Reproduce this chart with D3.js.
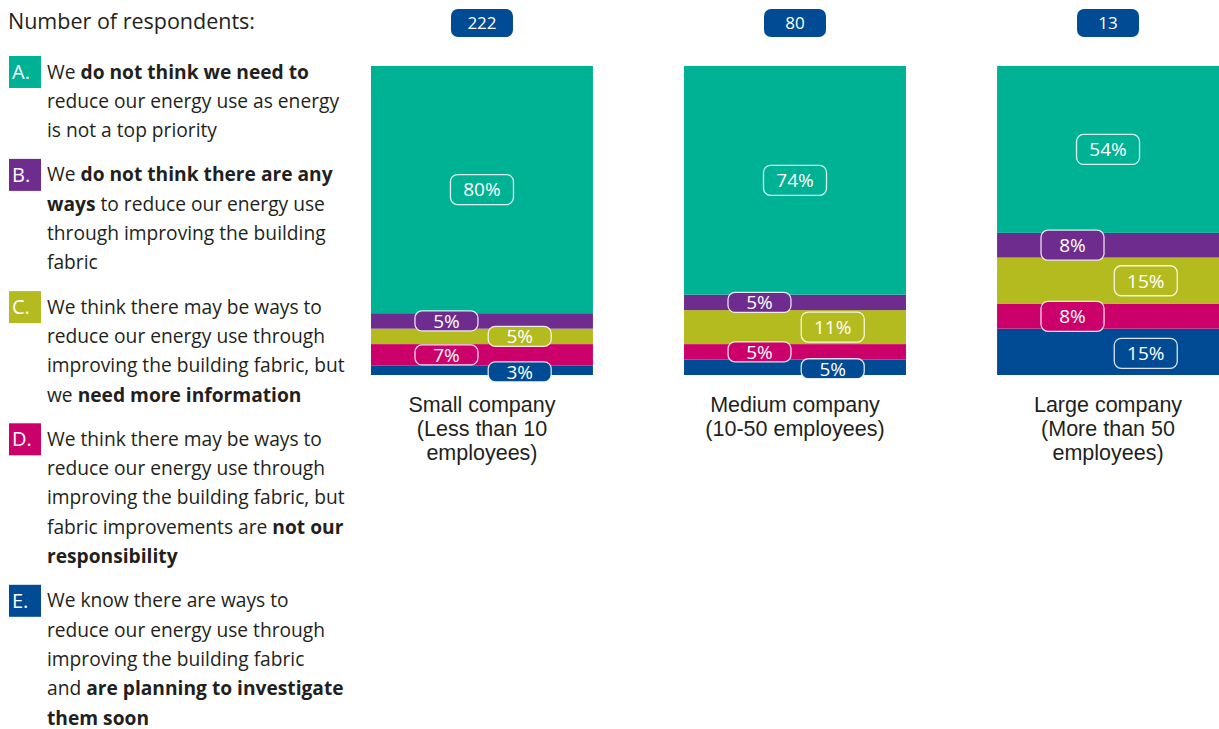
<!DOCTYPE html>
<html>
<head>
<meta charset="utf-8">
<script src="https://cdn.jsdelivr.net/npm/d3@7"></script>
<style>
  html, body { margin: 0; padding: 0; background: #fff; }
  svg { display: block; font-family: "Open Sans", "Noto Sans", sans-serif; }
</style>
</head>
<body>
<svg id="chart" width="1219" height="729"></svg>
<script>
// Survey answers by company size (percent of respondents)
const categories = ["Small", "Medium", "Large"];
const categoryLabels = [
  ["Small company", "(Less than 10", "employees)"],
  ["Medium company", "(10-50 employees)"],
  ["Large company", "(More than 50", "employees)"]
];
const respondents = [222, 80, 13];
const answerKeys = ["A", "B", "C", "D", "E"];
const answerA = [80, 74, 54];
const answerB = [5, 5, 8];
const answerC = [5, 11, 15];
const answerD = [7, 5, 8];
const answerE = [3, 5, 15];
const answerColors = ["#00b294", "#6e2c8e", "#b3bb1f", "#cc006a", "#004b93"];
const legendLetters = ["A.", "B.", "C.", "D.", "E."];
const legendText = [
  ["We **do not think we need to**", "reduce our energy use as energy", "is not a top priority"],
  ["We **do not think there are any**", "**ways** to reduce our energy use", "through improving the building", "fabric"],
  ["We think there may be ways to", "reduce our energy use through", "improving the building fabric, but", "we **need more information**"],
  ["We think there may be ways to", "reduce our energy use through", "improving the building fabric, but", "fabric improvements are **not our**", "**responsibility**"],
  ["We know there are ways to", "reduce our energy use through", "improving the building fabric", "and **are planning to investigate**", "**them soon**"]
];

const svg = d3.select("#chart");
const textColor = "#231f20";

// Rows for the stack: bottom is E, top is A
const rows = categories.map((c, i) => ({
  category: c,
  A: answerA[i], B: answerB[i], C: answerC[i], D: answerD[i], E: answerE[i]
}));
const stackOrder = ["E", "D", "C", "B", "A"];
const series = d3.stack().keys(stackOrder)(rows);

const x = d3.scaleBand().domain(categories).range([371, 1219]).paddingInner(0.291).paddingOuter(0);
const y = d3.scaleLinear().domain([0, 100]).range([375, 66]);
const color = d3.scaleOrdinal().domain(answerKeys).range(answerColors);

// Stacked segments
const layers = svg.append("g").selectAll("g")
  .data(series).join("g")
  .attr("fill", s => color(s.key));
layers.selectAll("rect")
  .data(s => s.map(d => Object.assign({ key: s.key }, d)))
  .join("rect")
  .attr("x", d => x(d.data.category))
  .attr("width", x.bandwidth())
  .attr("y", d => y(d[1]))
  .attr("height", d => y(d[0]) - y(d[1]));

// Value badges: A centred, B/D on the left, C/E on the right
const labelPos = { A: 0.5, B: 0.34, C: 0.67, D: 0.34, E: 0.67 };
const labels = svg.append("g").selectAll("g.segment-label")
  .data(series.flatMap(s => s.map(d => ({ key: s.key, d }))))
  .join("g")
  .attr("class", "segment-label")
  .attr("transform", o => {
    const cx = x(o.d.data.category) + x.bandwidth() * labelPos[o.key];
    const cy = (y(o.d[0]) + y(o.d[1])) / 2 + (o.key === "E" ? 1.5 : 0);
    return `translate(${cx},${cy})`;
  });
labels.each(function (o) {
  const g = d3.select(this);
  const value = o.d[1] - o.d[0];
  const h = (y(o.d[0]) - y(o.d[1])) >= 24 ? 30 : 20;
  g.append("rect")
    .attr("x", -31.5).attr("y", -h / 2)
    .attr("width", 63).attr("height", h)
    .attr("rx", 7).attr("ry", 7)
    .attr("fill", color(o.key))
    .attr("stroke", "rgba(255,255,255,0.85)")
    .attr("stroke-width", 1.3);
  g.append("text")
    .attr("text-anchor", "middle")
    .attr("dy", "0.36em")
    .attr("fill", "#fff")
    .attr("font-size", 19)
    .text(value + "%");
});

// Respondent counts above each bar
const badges = svg.append("g").selectAll("g")
  .data(categories.map((c, i) => ({ c, n: respondents[i] })))
  .join("g")
  .attr("transform", d => `translate(${x(d.c) + x.bandwidth() / 2},23)`);
badges.append("rect")
  .attr("x", -31).attr("y", -14).attr("width", 62).attr("height", 28)
  .attr("rx", 7).attr("fill", "#004b93");
badges.append("text")
  .attr("text-anchor", "middle").attr("dy", "0.36em")
  .attr("fill", "#fff").attr("font-size", 17)
  .text(d => d.n);

// Category names under the bars, one text per line (compact face for the tight leading)
svg.append("g").selectAll("text")
  .data(categories.flatMap((c, i) => categoryLabels[i].map((l, k) => ({ c, l, k }))))
  .join("text")
  .attr("text-anchor", "middle")
  .attr("fill", textColor)
  .attr("font-family", "'Liberation Sans', Arial, sans-serif")
  .attr("font-size", 21.5)
  .attr("x", d => x(d.c) + x.bandwidth() / 2)
  .attr("y", d => 412 + d.k * 24)
  .text(d => d.l);

// Legend
svg.append("text")
  .attr("x", 8).attr("y", 29)
  .attr("fill", textColor).attr("font-size", 21.5)
  .text("Number of respondents:");

const lineStep = 29.3;
let lineY = 72;
const legend = svg.append("g");
legendText.forEach((lines, i) => {
  const item = legend.append("g");
  item.append("rect")
    .attr("x", 9).attr("y", lineY - 16).attr("width", 32).attr("height", 32)
    .attr("fill", answerColors[i]);
  item.append("text")
    .attr("x", 12).attr("y", lineY + 7)
    .attr("fill", "#fff").attr("font-size", 20)
    .text(legendLetters[i]);
  lines.forEach((line, k) => {
    const t = item.append("text")
      .attr("x", 47).attr("y", lineY + k * lineStep + 6.5)
      .attr("fill", textColor).attr("font-size", 19.2);
    line.split("**").forEach((part, j) => {
      if (!part) return;
      t.append("tspan")
        .attr("font-weight", j % 2 === 1 ? 700 : 400)
        .text(part);
    });
  });
  lineY += lines.length * lineStep + 15;
});
</script>
</body>
</html>
